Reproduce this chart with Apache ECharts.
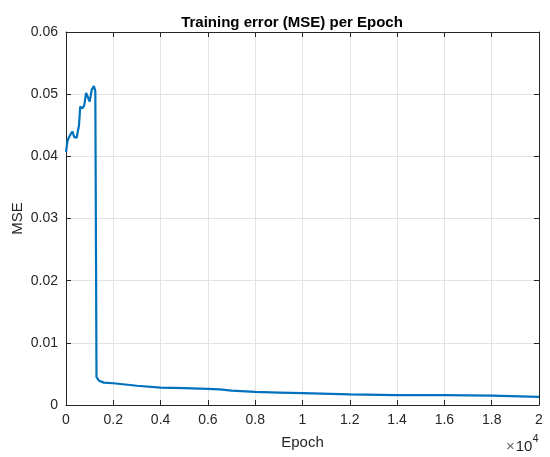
<!DOCTYPE html>
<html>
<head>
<meta charset="utf-8">
<script src="https://cdn.jsdelivr.net/npm/echarts@6/dist/echarts.min.js"></script>
<style>
html, body { margin: 0; padding: 0; background: #fff; }
#chart { width: 550px; height: 457px; }
</style>
</head>
<body>
<div id="chart"></div>
<script>
// training error per epoch
var epochs = [0, 70, 170, 270, 350, 450, 550, 600, 690, 770, 850, 920, 1000, 1090, 1180, 1240, 1290,
    1400, 1600, 2000, 3000, 4000, 5000, 6000, 6500, 7000, 8000, 9000, 10000, 12000, 14000, 16000, 18000, 20000];
var mse = [0.0407, 0.0426, 0.0434, 0.0440, 0.0431, 0.0430, 0.0450, 0.0480, 0.0477, 0.0482, 0.0502, 0.0503, 0.0488, 0.0507, 0.0513, 0.0505, 0.0045,
    0.0039, 0.0036, 0.0035, 0.0031, 0.0028, 0.0027, 0.0026, 0.0025, 0.0023, 0.0021, 0.0020, 0.0019, 0.0017, 0.0016, 0.0016, 0.0015, 0.0013];
var xTicks = [0, 0.2, 0.4, 0.6, 0.8, 1, 1.2, 1.4, 1.6, 1.8, 2]; // x 10^4
var yTicks = [0, 0.01, 0.02, 0.03, 0.04, 0.05, 0.06];

var font = '"Liberation Sans", Arial, Helvetica, sans-serif';
var axisCol = '#262626';

var points = epochs.map(function (e, i) { return [e, mse[i]]; });

function tick() {
    return { show: true, inside: true, length: 5, lineStyle: { color: axisCol, width: 1 } };
}
function line() {
    return { show: true, onZero: false, lineStyle: { color: axisCol, width: 1 } };
}

var chart = echarts.init(document.getElementById('chart'));
chart.setOption({
    animation: false,
    title: {
        text: 'Training error (MSE) per Epoch',
        left: 287, top: 10, textAlign: 'center',
        textStyle: { fontFamily: font, fontSize: 15, fontWeight: 'bold', color: '#000' }
    },
    grid: { left: 66, right: 11, top: 32, bottom: 52, containLabel: false, outerBoundsMode: 'none' },
    xAxis: [{
        type: 'value', min: 0, max: 20000, interval: 2000,
        name: 'Epoch', nameLocation: 'middle', nameGap: 30, nameMoveOverlap: false,
        nameTextStyle: { fontFamily: font, fontSize: 15, color: axisCol },
        axisLine: line(), axisTick: tick(),
        axisLabel: {
            fontFamily: font, fontSize: 14, color: axisCol, margin: 8,
            formatter: function (v) { return String(xTicks[Math.round(v / 2000)]); }
        },
        splitLine: { show: true, lineStyle: { color: '#e3e3e3', width: 1 } }
    }, {
        type: 'value', min: 0, max: 20000, interval: 2000, position: 'top',
        axisLine: line(), axisTick: tick(),
        axisLabel: { show: false }, splitLine: { show: false }
    }],
    yAxis: [{
        type: 'value', min: 0, max: 0.06, interval: 0.01,
        name: 'MSE', nameLocation: 'middle', nameGap: 41, nameMoveOverlap: false,
        nameTextStyle: { fontFamily: font, fontSize: 15, color: axisCol },
        axisLine: line(), axisTick: tick(),
        axisLabel: {
            fontFamily: font, fontSize: 14, color: axisCol, margin: 8,
            formatter: function (v) { return v === 0 ? '0' : yTicks[Math.round(v * 100)].toFixed(2); }
        },
        splitLine: { show: true, lineStyle: { color: '#e3e3e3', width: 1 } }
    }, {
        type: 'value', min: 0, max: 0.06, interval: 0.01, position: 'right',
        axisLine: line(), axisTick: tick(),
        axisLabel: { show: false }, splitLine: { show: false }
    }],
    graphic: [{
        type: 'text', left: 506, top: 433,
        style: {
            text: '{m|\u00d7}{b|10}{s|4}',
            rich: {
                m: { fontFamily: font, fontSize: 15, fill: '#666', padding: [6, 1, 0, 0] },
                b: { fontFamily: font, fontSize: 15, fill: axisCol, padding: [6, 0, 0, 0] },
                s: { fontFamily: font, fontSize: 11, fill: axisCol, verticalAlign: 'top', padding: [0, 0, 6, 0] }
            }
        }
    }],
    series: [{
        type: 'line',
        data: points,
        showSymbol: false,
        lineStyle: { color: '#0072BD', width: 2.2 },
        itemStyle: { color: '#0072BD' }
    }]
});
</script>
</body>
</html>
